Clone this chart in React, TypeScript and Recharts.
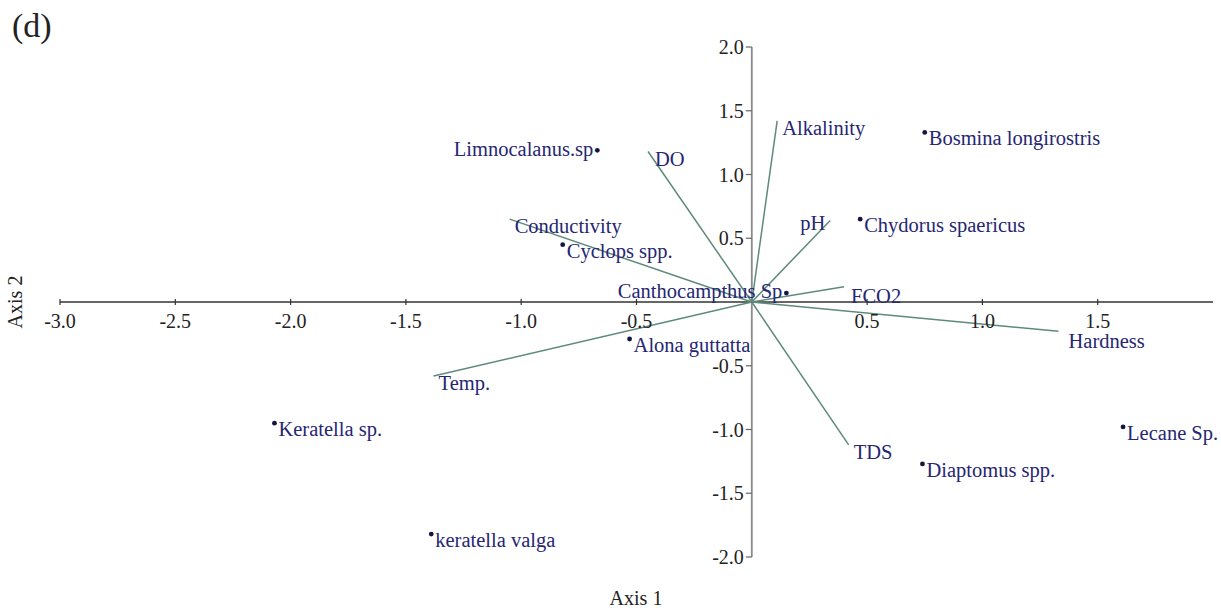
import React from "react";
import { ScatterChart, Scatter, XAxis, YAxis, ReferenceLine } from "recharts";

// ---------- data ----------
const speciesNames = [
  "Limnocalanus.sp",
  "Bosmina longirostris",
  "Chydorus spaericus",
  "Cyclops spp.",
  "Canthocampthus Sp",
  "Alona guttatta",
  "Keratella sp.",
  "keratella valga",
  "Lecane Sp.",
  "Diaptomus spp.",
];
const speciesAxis1 = [-0.67, 0.75, 0.47, -0.82, 0.15, -0.53, -2.07, -1.39, 1.61, 0.74];
const speciesAxis2 = [1.19, 1.33, 0.65, 0.45, 0.07, -0.29, -0.95, -1.82, -0.98, -1.27];

const variableNames = ["Alkalinity", "DO", "Conductivity", "pH", "FCO2", "Hardness", "TDS", "Temp."];
const variableAxis1 = [0.11, -0.45, -1.05, 0.34, 0.4, 1.33, 0.42, -1.38];
const variableAxis2 = [1.42, 1.18, 0.65, 0.64, 0.12, -0.23, -1.12, -0.58];

const xTicks = [-3.0, -2.5, -2.0, -1.5, -1.0, -0.5, 0.5, 1.0, 1.5];
const yTicks = [2.0, 1.5, 1.0, 0.5, -0.5, -1.0, -1.5, -2.0];

const xDomain: [number, number] = [-3, 2];
const yDomain: [number, number] = [-2, 2];

// ---------- styles ----------
const FONT = "'Liberation Serif', 'Times New Roman', serif";
const LABEL_COLOR = "#262672";
const VECTOR_COLOR = "#5d8a7a";
const TICK_COLOR = "#222";
const LABEL_SIZE = 20.5;

type Place = { dx: number; dy: number; anchor: "start" | "end" };
const DEFAULT_SPECIES_PLACE: Place = { dx: 4, dy: 13, anchor: "start" };
const DEFAULT_VECTOR_PLACE: Place = { dx: 5, dy: 14, anchor: "start" };
const PLACE_OVERRIDES: Record<string, Place> = {
  "Limnocalanus.sp": { dx: -4, dy: 6, anchor: "end" },
  "Canthocampthus Sp": { dx: -4, dy: 5, anchor: "end" },
  pH: { dx: -5, dy: 10, anchor: "end" },
  Hardness: { dx: 10, dy: 17, anchor: "start" },
  FCO2: { dx: 7, dy: 16, anchor: "start" },
  DO: { dx: 7, dy: 14, anchor: "start" },
};

const speciesData = speciesNames.map((name, i) => ({ name, x: speciesAxis1[i], y: speciesAxis2[i] }));
const variableData = variableNames.map((name, i) => ({ name, x: variableAxis1[i], y: variableAxis2[i] }));
const xTickData = xTicks.map((t) => ({ x: t, y: 0, label: t.toFixed(1) }));
const yTickData = yTicks.map((t) => ({ x: 0, y: t, label: t.toFixed(1) }));

const SpeciesShape = (p: any) => {
  const { cx, cy, payload } = p;
  const pl = PLACE_OVERRIDES[payload.name] || DEFAULT_SPECIES_PLACE;
  return (
    <g>
      <circle cx={cx} cy={cy} r={2.4} fill="#15153f" />
      <text x={cx + pl.dx} y={cy + pl.dy} textAnchor={pl.anchor} fontFamily={FONT} fontSize={LABEL_SIZE} fill={LABEL_COLOR}>
        {payload.name}
      </text>
    </g>
  );
};

const VectorLabelShape = (p: any) => {
  const { cx, cy, payload } = p;
  const pl = PLACE_OVERRIDES[payload.name] || DEFAULT_VECTOR_PLACE;
  return (
    <text x={cx + pl.dx} y={cy + pl.dy} textAnchor={pl.anchor} fontFamily={FONT} fontSize={LABEL_SIZE} fill={LABEL_COLOR}>
      {payload.name}
    </text>
  );
};

const XTickShape = (p: any) => {
  const { cx, cy, payload } = p;
  return (
    <g>
      <line x1={cx} y1={cy - 3} x2={cx} y2={cy + 3} stroke="#333" strokeWidth={1.2} />
      <text x={cx} y={cy + 26} textAnchor="middle" fontFamily={FONT} fontSize={20} fill={TICK_COLOR}>
        {payload.label}
      </text>
    </g>
  );
};

const YTickShape = (p: any) => {
  const { cx, cy, payload } = p;
  return (
    <g>
      <line x1={cx - 6} y1={cy} x2={cx} y2={cy} stroke="#666" strokeWidth={1.2} />
      <text x={cx - 8} y={cy + 7} textAnchor="end" fontFamily={FONT} fontSize={20} fill={TICK_COLOR}>
        {payload.label}
      </text>
    </g>
  );
};

export default function App() {
  return (
    <div style={{ position: "relative", width: 1221, height: 613, background: "#fff" }}>
      <style>{`body{margin:0;}`}</style>
      <ScatterChart width={1221} height={613} margin={{ top: 47, right: 8, bottom: 56, left: 60 }}>
        <XAxis type="number" dataKey="x" domain={xDomain} hide />
        <YAxis type="number" dataKey="y" domain={yDomain} hide />
        <ReferenceLine y={0} stroke="#333" strokeWidth={1.6} />
        <ReferenceLine x={0} stroke="#8a8a8a" strokeWidth={1.8} />
        {variableData.map((v) => (
          <ReferenceLine
            key={v.name}
            segment={[
              { x: 0, y: 0 },
              { x: v.x, y: v.y },
            ]}
            stroke={VECTOR_COLOR}
            strokeWidth={1.5}
          />
        ))}
        <Scatter data={xTickData} shape={XTickShape} isAnimationActive={false} />
        <Scatter data={yTickData} shape={YTickShape} isAnimationActive={false} />
        <Scatter data={variableData} shape={VectorLabelShape} isAnimationActive={false} />
        <Scatter data={speciesData} shape={SpeciesShape} isAnimationActive={false} />
      </ScatterChart>
      <svg
        width={1221}
        height={613}
        style={{ position: "absolute", left: 0, top: 0, pointerEvents: "none" }}
      >
        <text x={12} y={37} fontFamily={FONT} fontSize={34} fill="#222">
          (d)
        </text>
        <text x={636} y={605} textAnchor="middle" fontFamily={FONT} fontSize={20} fill="#222">
          Axis 1
        </text>
        <text
          x={22}
          y={302}
          textAnchor="middle"
          fontFamily={FONT}
          fontSize={20}
          fill="#222"
          transform="rotate(-90, 22, 302)"
        >
          Axis 2
        </text>
      </svg>
    </div>
  );
}
